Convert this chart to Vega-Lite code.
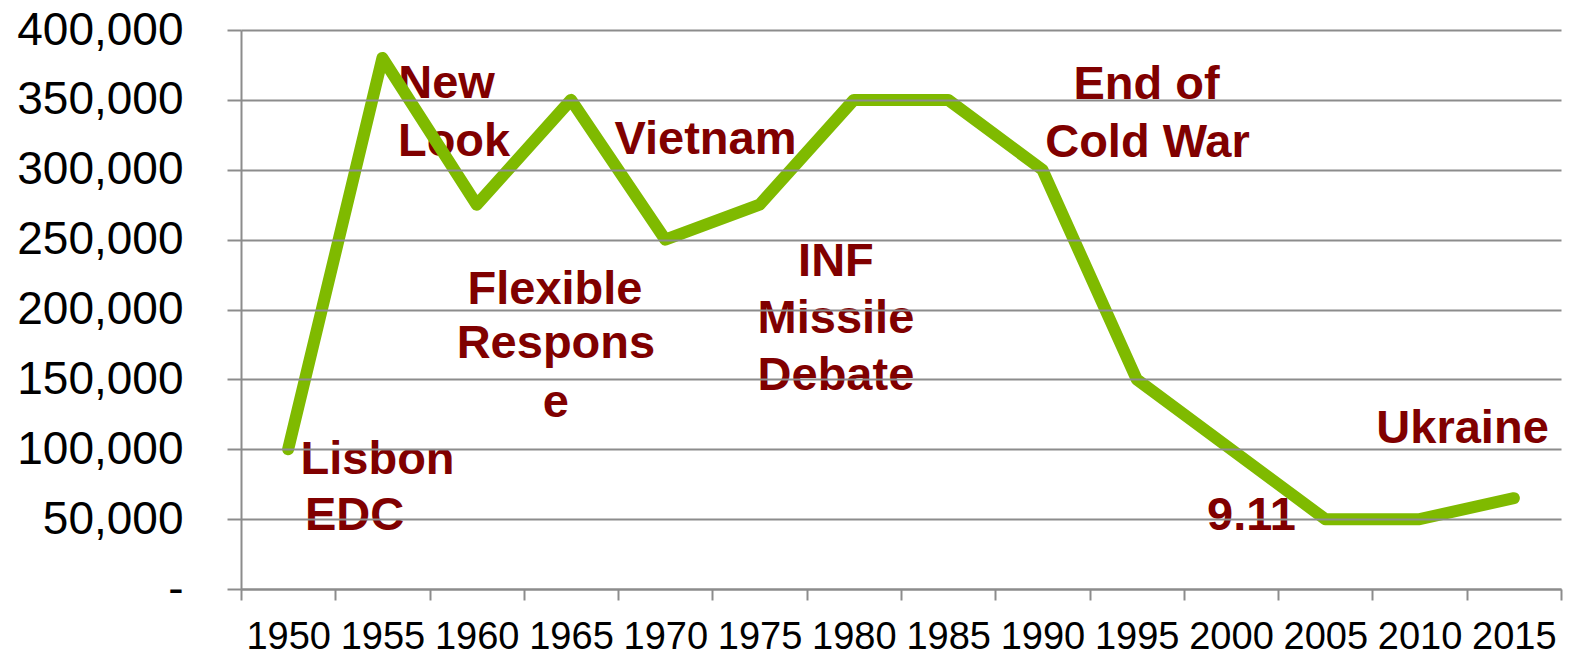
{
  "$schema": "https://vega.github.io/schema/vega-lite/v6.json",
  "width": 1320,
  "height": 559,
  "autosize": "none",
  "padding": {"left": 241, "top": 30, "right": 8, "bottom": 65},
  "background": "white",
  "config": {"view": {"stroke": null}, "font": "Liberation Sans"},
  "datasets": {
    "troops": [
      {"year": 1950, "troops": 100000},
      {"year": 1955, "troops": 380000},
      {"year": 1960, "troops": 275000},
      {"year": 1965, "troops": 350000},
      {"year": 1970, "troops": 250000},
      {"year": 1975, "troops": 275000},
      {"year": 1980, "troops": 350000},
      {"year": 1985, "troops": 350000},
      {"year": 1990, "troops": 300000},
      {"year": 1995, "troops": 150000},
      {"year": 2000, "troops": 100000},
      {"year": 2005, "troops": 50000},
      {"year": 2010, "troops": 50000},
      {"year": 2015, "troops": 65000}
    ],
    "notes": [
      {"label": "Lisbon", "x": 1954.74, "y": 82143},
      {"label": "EDC", "x": 1953.52, "y": 42143},
      {"label": "New", "x": 1958.4, "y": 351429},
      {"label": "Look", "x": 1958.8, "y": 310000},
      {"label": "Vietnam", "x": 1972.13, "y": 311429},
      {"label": "Flexible", "x": 1964.15, "y": 204286},
      {"label": "Respons", "x": 1964.2, "y": 165000},
      {"label": "e", "x": 1964.2, "y": 122857},
      {"label": "INF", "x": 1979.05, "y": 224286},
      {"label": "Missile", "x": 1979.05, "y": 182857},
      {"label": "Debate", "x": 1979.05, "y": 142143},
      {"label": "End of", "x": 1995.52, "y": 350714},
      {"label": "Cold War", "x": 1995.57, "y": 309286},
      {"label": "9.11", "x": 2001.09, "y": 42143},
      {"label": "Ukraine", "x": 2012.28, "y": 104286}
    ]
  },
  "layer": [
    {
      "data": {"name": "notes"},
      "mark": {"type": "text", "font": "Liberation Sans", "fontWeight": "bold", "fontSize": 47, "color": "#800000", "align": "center", "baseline": "alphabetic", "zindex": 0},
      "encoding": {
        "x": {"field": "x", "type": "quantitative", "scale": {"domain": [1947.5, 2017.5], "nice": false, "zero": false}, "axis": null},
        "y": {"field": "y", "type": "quantitative"},
        "text": {"field": "label"}
      }
    },
    {
      "data": {"name": "troops"},
      "mark": {"type": "line", "color": "#7fba00", "strokeWidth": 12, "strokeCap": "round", "strokeJoin": "round", "zindex": 2},
      "encoding": {
        "x": {
          "field": "year", "type": "ordinal", "bandPosition": 0.5,
          "scale": {"type": "band", "paddingInner": 0, "paddingOuter": 0},
          "axis": {
            "title": null, "labelAngle": 0, "tickBand": "extent", "tickSize": 11, "tickWidth": 2, "tickColor": "#8c8c8c",
            "domainColor": "#8c8c8c", "domainWidth": 2, "labelFont": "Liberation Sans", "labelFontSize": 38, "labelColor": "#000000",
            "labelPadding": 18, "labelBaseline": "top", "grid": false, "zindex": 1
          }
        },
        "y": {
          "field": "troops", "type": "quantitative",
          "scale": {"domain": [0, 400000], "nice": false},
          "axis": {
            "title": null, "values": [0, 50000, 100000, 150000, 200000, 250000, 300000, 350000, 400000],
            "labelExpr": "datum.value == 0 ? '-\u00a0\u00a0' : format(datum.value, ',')",
            "tickSize": 14, "tickWidth": 2, "tickColor": "#8c8c8c", "domainColor": "#8c8c8c", "domainWidth": 2,
            "grid": true, "gridColor": "#8c8c8c", "gridWidth": 2, "gridOpacity": 1,
            "labelFont": "Liberation Sans", "labelFontSize": 46, "labelColor": "#000000", "labelPadding": 44,
            "labelBaseline": "middle", "zindex": 1
          }
        }
      }
    }
  ],
  "resolve": {"scale": {"x": "independent"}}
}
